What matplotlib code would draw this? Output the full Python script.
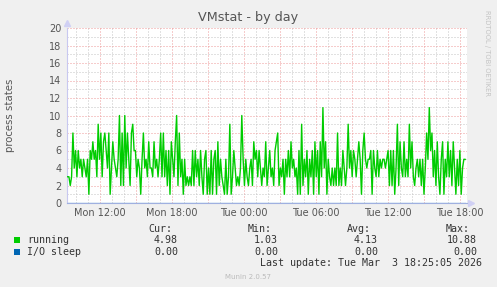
import numpy as np
import matplotlib
matplotlib.use("Agg")
import matplotlib.pyplot as plt
from matplotlib.patches import Rectangle
from matplotlib.ticker import MultipleLocator

# running processes left to right (Mon ~09:15 -> Tue ~18:25)
seg1 = [3, 3, 2, 3, 8, 4, 6, 3, 6, 4, 5, 3, 5, 4, 3, 5, 1, 6, 5, 7, 5, 6, 3, 9, 5, 8, 3, 7, 8, 6,
        4, 8, 1, 4, 7, 5, 4, 3, 5, 10]
seg2 = [2, 8, 2, 10, 4, 8, 5, 2, 8, 9, 6, 6, 3, 5, 4, 1, 5, 8, 4, 5, 3, 7, 4, 4, 3, 7, 4, 5, 3, 5,
        8, 3, 8, 3, 6, 2, 6, 1, 7, 5, 3, 7]
seg3 = [10, 2, 8, 3, 5, 1, 5, 2, 3, 2, 3, 2, 6, 2, 6, 3, 5, 2, 6, 3, 1, 5, 6, 1, 4, 1, 6, 1, 5, 6,
        1, 7, 2, 5, 3, 2, 1, 5, 1, 3, 9, 1, 3, 6]
seg4 = [4, 2, 3, 2, 4, 10, 5, 2, 5, 3, 2, 4, 5, 2, 7, 5, 6, 3, 6, 4, 2, 4, 3, 7, 2, 4, 6, 3, 4, 2,
        6, 7, 8, 2, 4, 3, 5, 1, 5, 3, 6, 3, 7]
seg5 = [4, 5, 3, 4, 1, 6, 1, 9, 2, 5, 3, 6, 1, 5, 3, 6, 1, 7, 3, 6, 1, 7, 3, 10.9, 4, 7, 1, 5, 3, 2,
        4, 2, 4, 2, 8, 2, 4, 2, 6, 4, 2, 4, 9]
seg6 = [4, 6, 3, 6, 5, 3, 5, 7, 5, 1, 6, 8, 5, 4, 5, 5, 6, 1, 6, 4, 3, 6, 3, 5, 4, 5, 5, 4, 5, 6,
        2, 6, 2, 6, 1, 4, 9, 2, 7, 4, 3, 7, 3]
seg7 = [5, 3, 9, 4, 7, 3, 2, 4, 5, 3, 5, 2, 5, 1, 4, 8, 5, 10.9, 6, 8, 3, 6, 2, 7, 3, 1, 5, 7, 1, 5,
        3, 7, 3, 6, 2, 7, 4, 1, 5, 2, 6, 1, 4, 5, 4.98]
running = np.array(seg1 + seg2 + seg3 + seg4 + seg5 + seg6 + seg7, dtype=float)
io_sleep = np.zeros_like(running)

# time axis in hours since Mon 00:00
t_start, t_end = 9.3, 42.45
x_min, x_max = 9.25, 42.6
times = np.linspace(t_start, t_end, len(running))

tick_hours = [12, 18, 24, 30, 36, 42]
tick_labels = ["Mon 12:00", "Mon 18:00", "Tue 00:00", "Tue 06:00", "Tue 12:00", "Tue 18:00"]

legend_names = ["running", "I/O sleep"]
legend_colors = ["#00CC00", "#0066B3"]
cur_vals = ["4.98", "0.00"]
min_vals = ["1.03", "0.00"]
avg_vals = ["4.13", "0.00"]
max_vals = ["10.88", "0.00"]

W, H = 497, 287
fig = plt.figure(figsize=(W / 100, H / 100), dpi=100, facecolor="#F0F0F0")
ax = fig.add_axes([67 / W, 1 - 203 / H, 400 / W, 175 / H], facecolor="white")

def fx(px):
    return px / W

def fy(py):
    return 1 - py / H

# dotted grid
ax.set_xlim(x_min, x_max)
ax.set_ylim(0, 20)
ax.xaxis.set_major_locator(MultipleLocator(3))
ax.xaxis.set_minor_locator(MultipleLocator(1))
ax.yaxis.set_major_locator(MultipleLocator(2))
ax.yaxis.set_minor_locator(MultipleLocator(1))
ax.grid(which="minor", color="#C4C4C4", lw=0.72, ls=(0, (1, 2)), zorder=0)
ax.grid(which="major", color="#EE9A9A", lw=0.72, ls=(0, (1, 2)), zorder=0.5)
ax.set_axisbelow(True)
ax.set_xticklabels([])
ax.tick_params(which="both", length=0, labelsize=7, colors="#555555")
ax.tick_params(axis="y", pad=4)
for h, lab in zip(tick_hours, tick_labels):
    ax.text(h, -0.6, lab, ha="center", va="top", fontsize=7, color="#555555",
            transform=ax.transData)
for lab in ax.get_yticklabels():
    lab.set_color("#555555")

for s in ["top", "right"]:
    ax.spines[s].set_visible(False)
ax.spines["left"].set_color("#C8C8F0")
ax.spines["bottom"].set_color("#9FB0E0")
ax.spines["left"].set_linewidth(0.8)
ax.spines["bottom"].set_linewidth(0.8)

# arrows at axis ends
ax.plot([0], [1.03], marker="^", ms=5, color="#D0D0F4", transform=ax.transAxes, clip_on=False)
ax.plot([1.01], [0], marker=">", ms=5, color="#D0D0F4", transform=ax.transAxes, clip_on=False)

# series
ax.plot(times, io_sleep, color=legend_colors[1], lw=1.0, alpha=0.45, zorder=3)
ax.plot(times, running, color=legend_colors[0], lw=1.0, zorder=4)

# titles
fig.text(fx(248.5), fy(18), "VMstat - by day", ha="center", va="center", fontsize=9.2, color="#555555")
fig.text(fx(10), fy(115.5), "process states", ha="center", va="center", rotation=90,
         fontsize=7.3, color="#555555")
fig.text(fx(487), fy(53), "RRDTOOL / TOBI OETIKER", ha="center", va="center", rotation=270,
         fontsize=4.9, color="#C4C4C4")

# legend
mono = dict(family="DejaVu Sans Mono", fontsize=7.2, color="#333333", va="center")
cols = [(172, "Cur:", cur_vals, 178), (272, "Min:", min_vals, 278),
        (371, "Avg:", avg_vals, 378), (470, "Max:", max_vals, 477)]
for hx, head, vals, vx in cols:
    fig.text(fx(hx), fy(228.5), head, ha="right", **mono)
    for i, v in enumerate(vals):
        fig.text(fx(vx), fy(240 + 12 * i), v, ha="right", **mono)
for i, (name, c) in enumerate(zip(legend_names, legend_colors)):
    yy = 240 + 12 * i
    fig.add_artist(Rectangle((fx(14), fy(yy + 3)), 6 / W, 6 / H, transform=fig.transFigure,
                             facecolor=c, edgecolor="none"))
    fig.text(fx(27), fy(yy), name, ha="left", **mono)
fig.text(fx(482), fy(263.5), "Last update: Tue Mar  3 18:25:05 2026", ha="right", **mono)
fig.text(fx(248), fy(277), "Munin 2.0.57", ha="center", va="center", fontsize=5, color="#BBBBBB")

fig.savefig("out.png", dpi=100, facecolor=fig.get_facecolor())
